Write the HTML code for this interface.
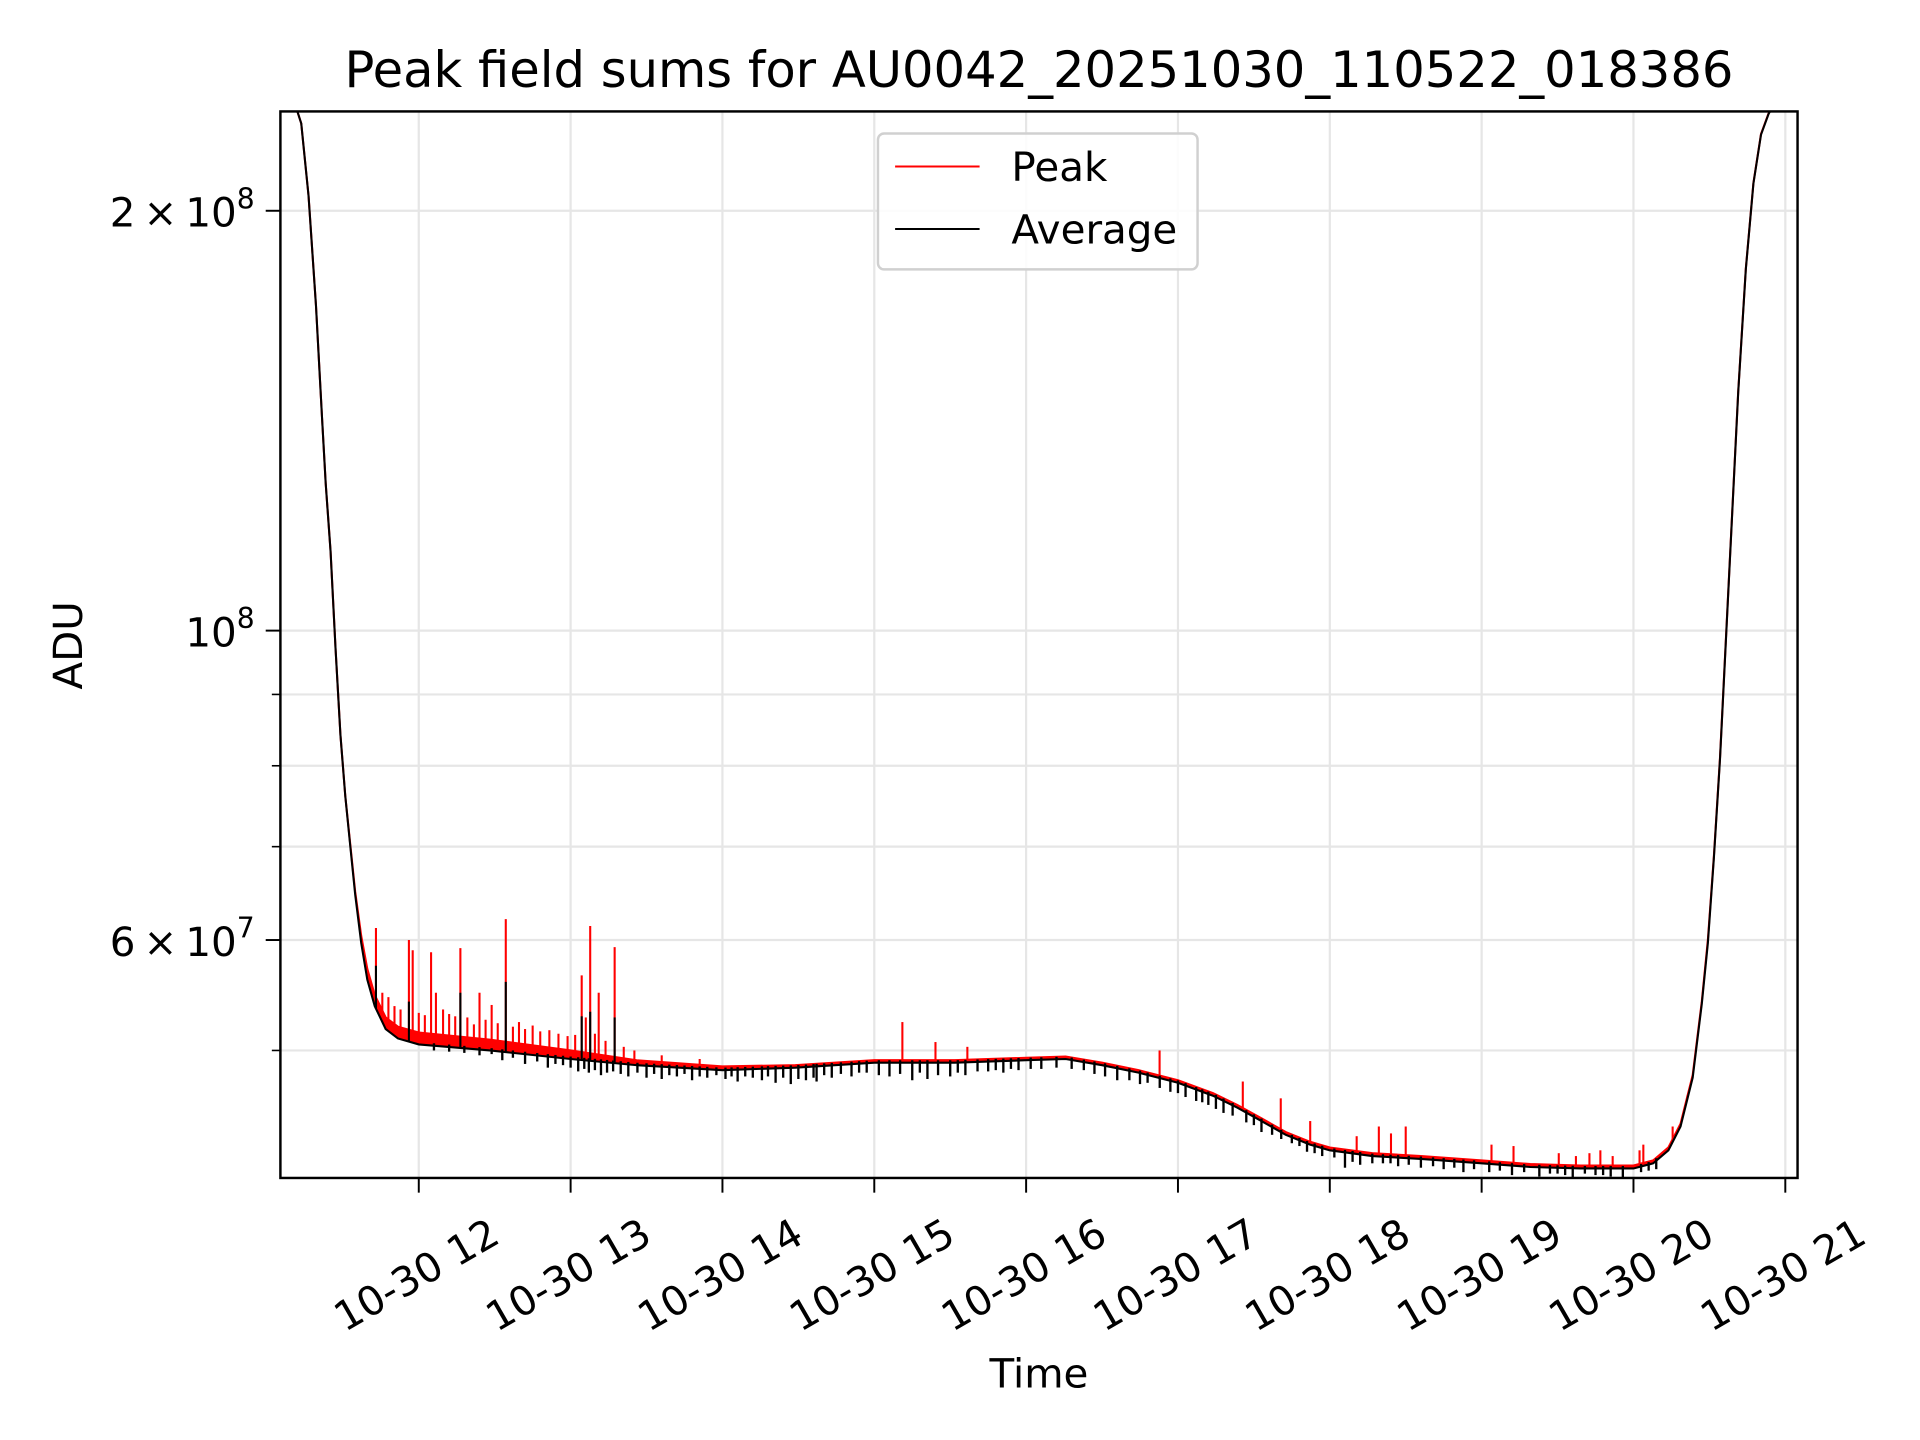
<!DOCTYPE html>
<html>
<head>
<meta charset="utf-8">
<style>
html,body{margin:0;padding:0;background:#fff;}
svg{display:block;}
text{font-family:"DejaVu Sans","Liberation Sans",sans-serif;fill:#000;}
</style>
</head>
<body>
<svg id="chart" xmlns="http://www.w3.org/2000/svg" width="1920" height="1440" viewBox="0 0 1568 1176">
  <rect x="0" y="0" width="1568" height="1176" fill="#fff"/>
  <defs><clipPath id="plotclip"><rect x="229" y="91" width="1239" height="871"/></clipPath></defs>
  <g id="grid"></g>
  <g id="series" clip-path="url(#plotclip)"></g>
  <rect x="229" y="91" width="1239" height="871" fill="none" stroke="#000" stroke-width="2"/>
  <g id="ticks"></g>
  <text x="848.5" y="71" font-size="40.5" text-anchor="middle">Peak field sums for AU0042_20251030_110522_018386</text>
  <text x="848.5" y="1133" font-size="33" text-anchor="middle">Time</text>
  <text x="0" y="0" font-size="33" text-anchor="middle" transform="translate(67,527) rotate(-90)">ADU</text>
  <g>
    <rect x="717" y="109" width="261" height="111" rx="5" fill="#fff" fill-opacity="0.85" stroke="#d0d0d0" stroke-width="2"/>
    <line x1="731" y1="136" x2="800" y2="136" stroke="#ff0000" stroke-width="1.6"/>
    <text x="826" y="148" font-size="33">Peak</text>
    <line x1="731" y1="187" x2="800" y2="187" stroke="#000" stroke-width="1.6"/>
    <text x="826" y="199" font-size="33">Average</text>
  </g>
</svg>
<script>
// ---- data (time in hours on 10-30, values in millions of ADU) ----
const avgTimes = [11.089,11.177,11.226,11.274,11.323,11.363,11.387,11.419,11.452,11.484,11.516,11.548,11.581,11.621,11.661,11.71,11.782,11.863,12.0,12.468,13.0,13.435,14.0,14.48,15.0,15.53,16.0,16.26,16.5,16.74,17.0,17.23,17.39,17.55,17.71,17.87,18.0,18.28,18.6,19.0,19.32,19.65,20.0,20.13,20.23,20.31,20.39,20.45,20.49,20.53,20.57,20.61,20.65,20.69,20.74,20.79,20.84,20.89,20.94,21.08];
const avgValues = [260,240,231,205,171,142,127.5,114,97,84.2,76.1,70.2,64.7,59.7,56.2,53.8,51.8,51.0,50.5,50.0,49.3,48.8,48.4,48.6,49.0,49.0,49.2,49.3,48.8,48.2,47.4,46.4,45.5,44.5,43.5,42.8,42.4,42.0,41.8,41.5,41.25,41.15,41.15,41.5,42.4,44.1,47.8,54.0,59.7,68.8,80.9,99.0,121.2,148.3,181.6,209.2,226.8,234.7,240,260];
const peakValues = [260,240,231,205,171,142,127.5,114,97,84.2,76.1,70.4,65.0,60.4,57.2,54.8,52.8,52.0,51.5,50.9,50.0,49.2,48.7,48.8,49.2,49.2,49.4,49.5,49.0,48.4,47.6,46.6,45.7,44.7,43.7,43.0,42.6,42.2,42.0,41.7,41.45,41.35,41.35,41.7,42.6,44.3,48.0,54.2,60.0,69.0,81.1,99.2,121.4,148.5,181.8,209.4,227.0,234.9,240,260];
const peakSpikeTimes = [11.718,11.76,11.8,11.84,11.88,11.935,11.96,12.0,12.04,12.081,12.113,12.16,12.2,12.24,12.274,12.32,12.363,12.40,12.44,12.48,12.52,12.573,12.62,12.66,12.7,12.75,12.8,12.86,12.92,12.98,13.03,13.073,13.1,13.129,13.16,13.185,13.23,13.29,13.35,13.42,13.6,13.85,15.185,15.403,15.613,16.879,17.427,17.677,17.871,18.177,18.323,18.403,18.5,19.065,19.21,19.508,19.621,19.71,19.782,19.863,20.04,20.065,20.258,20.355];
const peakSpikeValues = [61.2,55.0,54.6,53.8,53.5,60.0,59.0,53.2,53.0,58.8,55.0,53.5,53.1,52.9,59.2,52.8,52.2,55.0,52.6,53.9,52.3,62.1,52.0,52.4,51.8,52.1,51.6,51.7,51.4,51.2,51.3,56.6,52.8,61.4,51.4,55.0,50.8,59.3,50.3,50.0,49.6,49.3,52.4,50.7,50.3,50.0,47.5,46.2,44.5,43.4,44.1,43.6,44.1,42.8,42.7,42.2,42.0,42.2,42.4,42.0,42.4,42.8,44.1,46.4];
const avgSpikeTimes = [11.718,11.935,12.274,12.573,13.073,13.129,13.29];
const avgSpikeValues = [57.5,54.2,55.0,56.0,52.9,53.3,52.8];
const dipTimes = [12.1,12.2,12.3,12.4,12.48,12.55,12.62,12.7,12.78,12.85,12.9,12.95,13.0,13.05,13.09,13.12,13.16,13.2,13.24,13.28,13.33,13.38,13.44,13.5,13.55,13.6,13.65,13.7,13.75,13.8,13.85,13.9,13.96,14.02,14.06,14.1,14.15,14.2,14.26,14.3,14.35,14.4,14.45,14.5,14.55,14.6,14.62,14.67,14.72,14.78,14.85,14.9,14.95,15.03,15.1,15.17,15.25,15.3,15.35,15.42,15.5,15.55,15.6,15.68,15.75,15.8,15.85,15.9,15.95,16.03,16.1,16.2,16.3,16.38,16.45,16.52,16.6,16.68,16.75,16.8,16.88,16.95,17.0,17.05,17.12,17.16,17.2,17.25,17.3,17.36,17.45,17.5,17.55,17.62,17.68,17.75,17.8,17.85,17.9,17.95,18.03,18.1,18.15,18.2,18.28,18.35,18.4,18.45,18.52,18.6,18.68,18.75,18.82,18.88,18.95,19.05,19.12,19.2,19.28,19.38,19.45,19.5,19.55,19.6,19.68,19.75,19.8,19.85,19.93,20.05,20.1,20.15];
const dipValues = [50.0,49.9,49.8,49.6,49.7,49.2,49.4,48.9,49.1,48.6,48.9,48.8,48.6,48.3,48.5,48.2,48.4,48.0,48.2,48.3,48.1,47.9,48.2,47.8,48.1,47.7,48.0,47.9,48.1,47.6,47.9,47.8,48.0,47.7,47.9,47.5,47.9,47.8,47.6,47.9,47.4,47.8,47.3,47.7,47.6,47.8,47.5,48.0,47.8,48.1,47.9,48.2,48.2,48.0,47.9,48.1,47.6,48.2,47.7,48.0,47.9,48.2,48.0,48.3,48.3,48.4,48.2,48.5,48.4,48.5,48.5,48.6,48.5,48.4,48.1,47.9,47.6,47.6,47.3,47.4,47.0,46.7,46.6,46.3,46.0,45.9,45.7,45.4,45.1,44.9,44.4,44.2,43.7,43.5,43.2,42.9,42.7,42.3,42.2,42.0,41.9,41.2,41.6,41.4,41.5,41.5,41.5,41.3,41.4,41.2,41.3,41.1,41.2,40.9,41.1,40.9,41.0,40.7,40.9,40.6,40.8,40.8,40.7,40.5,40.8,40.7,40.7,40.6,40.4,40.9,41.0,41.1];
const xTickHours = [12,13,14,15,16,17,18,19,20,21];
const xTickLabels = ["10-30 12","10-30 13","10-30 14","10-30 15","10-30 16","10-30 17","10-30 18","10-30 19","10-30 20","10-30 21"];
const yMajorValues = [200,100,60];
const yMajorMant = ["2","","6"];
const yMajorExp = ["8","8","7"];
const yMinorValues = [90,80,70,50];

// ---- axis functions ----
const NS = "http://www.w3.org/2000/svg";
function xs(t){ return 342 + (t - 12) * 124; }
function ys(v){ return 515 - 1139 * Math.log10(v / 100); }
function interp(ts, vs, t){
  for (let i = 0; i < ts.length - 1; i++) {
    if (t >= ts[i] && t <= ts[i+1]) {
      const f = (t - ts[i]) / (ts[i+1] - ts[i]);
      return Math.exp(Math.log(vs[i]) + f * (Math.log(vs[i+1]) - Math.log(vs[i])));
    }
  }
  return vs[vs.length - 1];
}
function mk(tag, attrs, parent){
  const el = document.createElementNS(NS, tag);
  for (const k in attrs) el.setAttribute(k, attrs[k]);
  parent.appendChild(el);
  return el;
}
const grid = document.getElementById('grid');
const series = document.getElementById('series');
const ticks = document.getElementById('ticks');

// grid
xTickHours.forEach((h) => {
  if (xs(h) > 1468) return;
  const g = mk('line', {x1: xs(h), x2: xs(h), y1: 91, y2: 962, stroke: '#e6e6e6', 'stroke-width': 1.8}, grid);
  
  
});
yMajorValues.concat(yMinorValues).forEach((v) => {
  const g = mk('line', {x1: 229, x2: 1468, y1: ys(v), y2: ys(v), stroke: '#e6e6e6', 'stroke-width': 1.8}, grid);
  
  
});

// peak line
const pk = mk('polyline', {points: avgTimes.map((t, i) => xs(t) + ',' + ys(peakValues[i])).join(' '), fill: 'none', stroke: '#ff0000', 'stroke-width': 1.7}, series);


const band = mk('polygon', {points: avgTimes.map((t, i) => xs(t) + ',' + ys(peakValues[i])).concat(avgTimes.slice().reverse().map((t, j) => xs(t) + ',' + ys(avgValues[avgTimes.length - 1 - j]))).join(' '), fill: '#ff0000', stroke: 'none'}, series);


peakSpikeTimes.forEach((t, i) => {
  const s = mk('line', {x1: xs(t), x2: xs(t), y1: ys(interp(avgTimes, peakValues, t)), y2: ys(peakSpikeValues[i]), stroke: '#ff0000', 'stroke-width': 1.7}, series);
  
  
});

// average line
const av = mk('polyline', {points: avgTimes.map((t, i) => xs(t) + ',' + ys(avgValues[i])).join(' '), fill: 'none', stroke: '#000', 'stroke-width': 1.7}, series);


dipTimes.forEach((t, i) => {
  const d = mk('line', {x1: xs(t), x2: xs(t), y1: ys(interp(avgTimes, avgValues, t)) - 2, y2: ys(dipValues[i]), stroke: '#000', 'stroke-width': 1.9}, series);
  
  
});
avgSpikeTimes.forEach((t, i) => {
  const s = mk('line', {x1: xs(t), x2: xs(t), y1: ys(interp(avgTimes, avgValues, t)), y2: ys(avgSpikeValues[i]), stroke: '#000', 'stroke-width': 1.7}, series);
  
  
});

// x ticks
xTickHours.forEach((h, i) => {
  const x = xs(h);
  const tk = mk('line', {x1: x, x2: x, y1: 962, y2: 974, stroke: '#000', 'stroke-width': 1.6}, ticks);
  
  
  const lb = mk('text', {x: 0, y: 0, 'font-size': 33, 'text-anchor': 'middle', dy: '0.35em', transform: 'translate(' + (x - 2) + ',1041) rotate(-30)'}, ticks);
  lb.textContent = xTickLabels[i];
  
  
});
// y ticks
yMajorValues.forEach((v, i) => {
  const y = ys(v);
  const tk = mk('line', {x1: 217, x2: 229, y1: y, y2: y, stroke: '#000', 'stroke-width': 1.6}, ticks);
  
  
  const lb = mk('text', {x: 208, y: y + 13, 'font-size': 33, 'text-anchor': 'end'}, ticks);
  
  
  const base = mk('tspan', {}, lb);
  base.textContent = (yMajorMant[i] ? yMajorMant[i] + '\u2009\u00d7\u200910' : '10');
  const sup = mk('tspan', {dy: -15, 'font-size': 23}, lb);
  sup.textContent = yMajorExp[i];
});
yMinorValues.forEach((v) => {
  const y = ys(v);
  const tk = mk('line', {x1: 222, x2: 229, y1: y, y2: y, stroke: '#000', 'stroke-width': 1.3}, ticks);
  
  
});
</script>
</body>
</html>
